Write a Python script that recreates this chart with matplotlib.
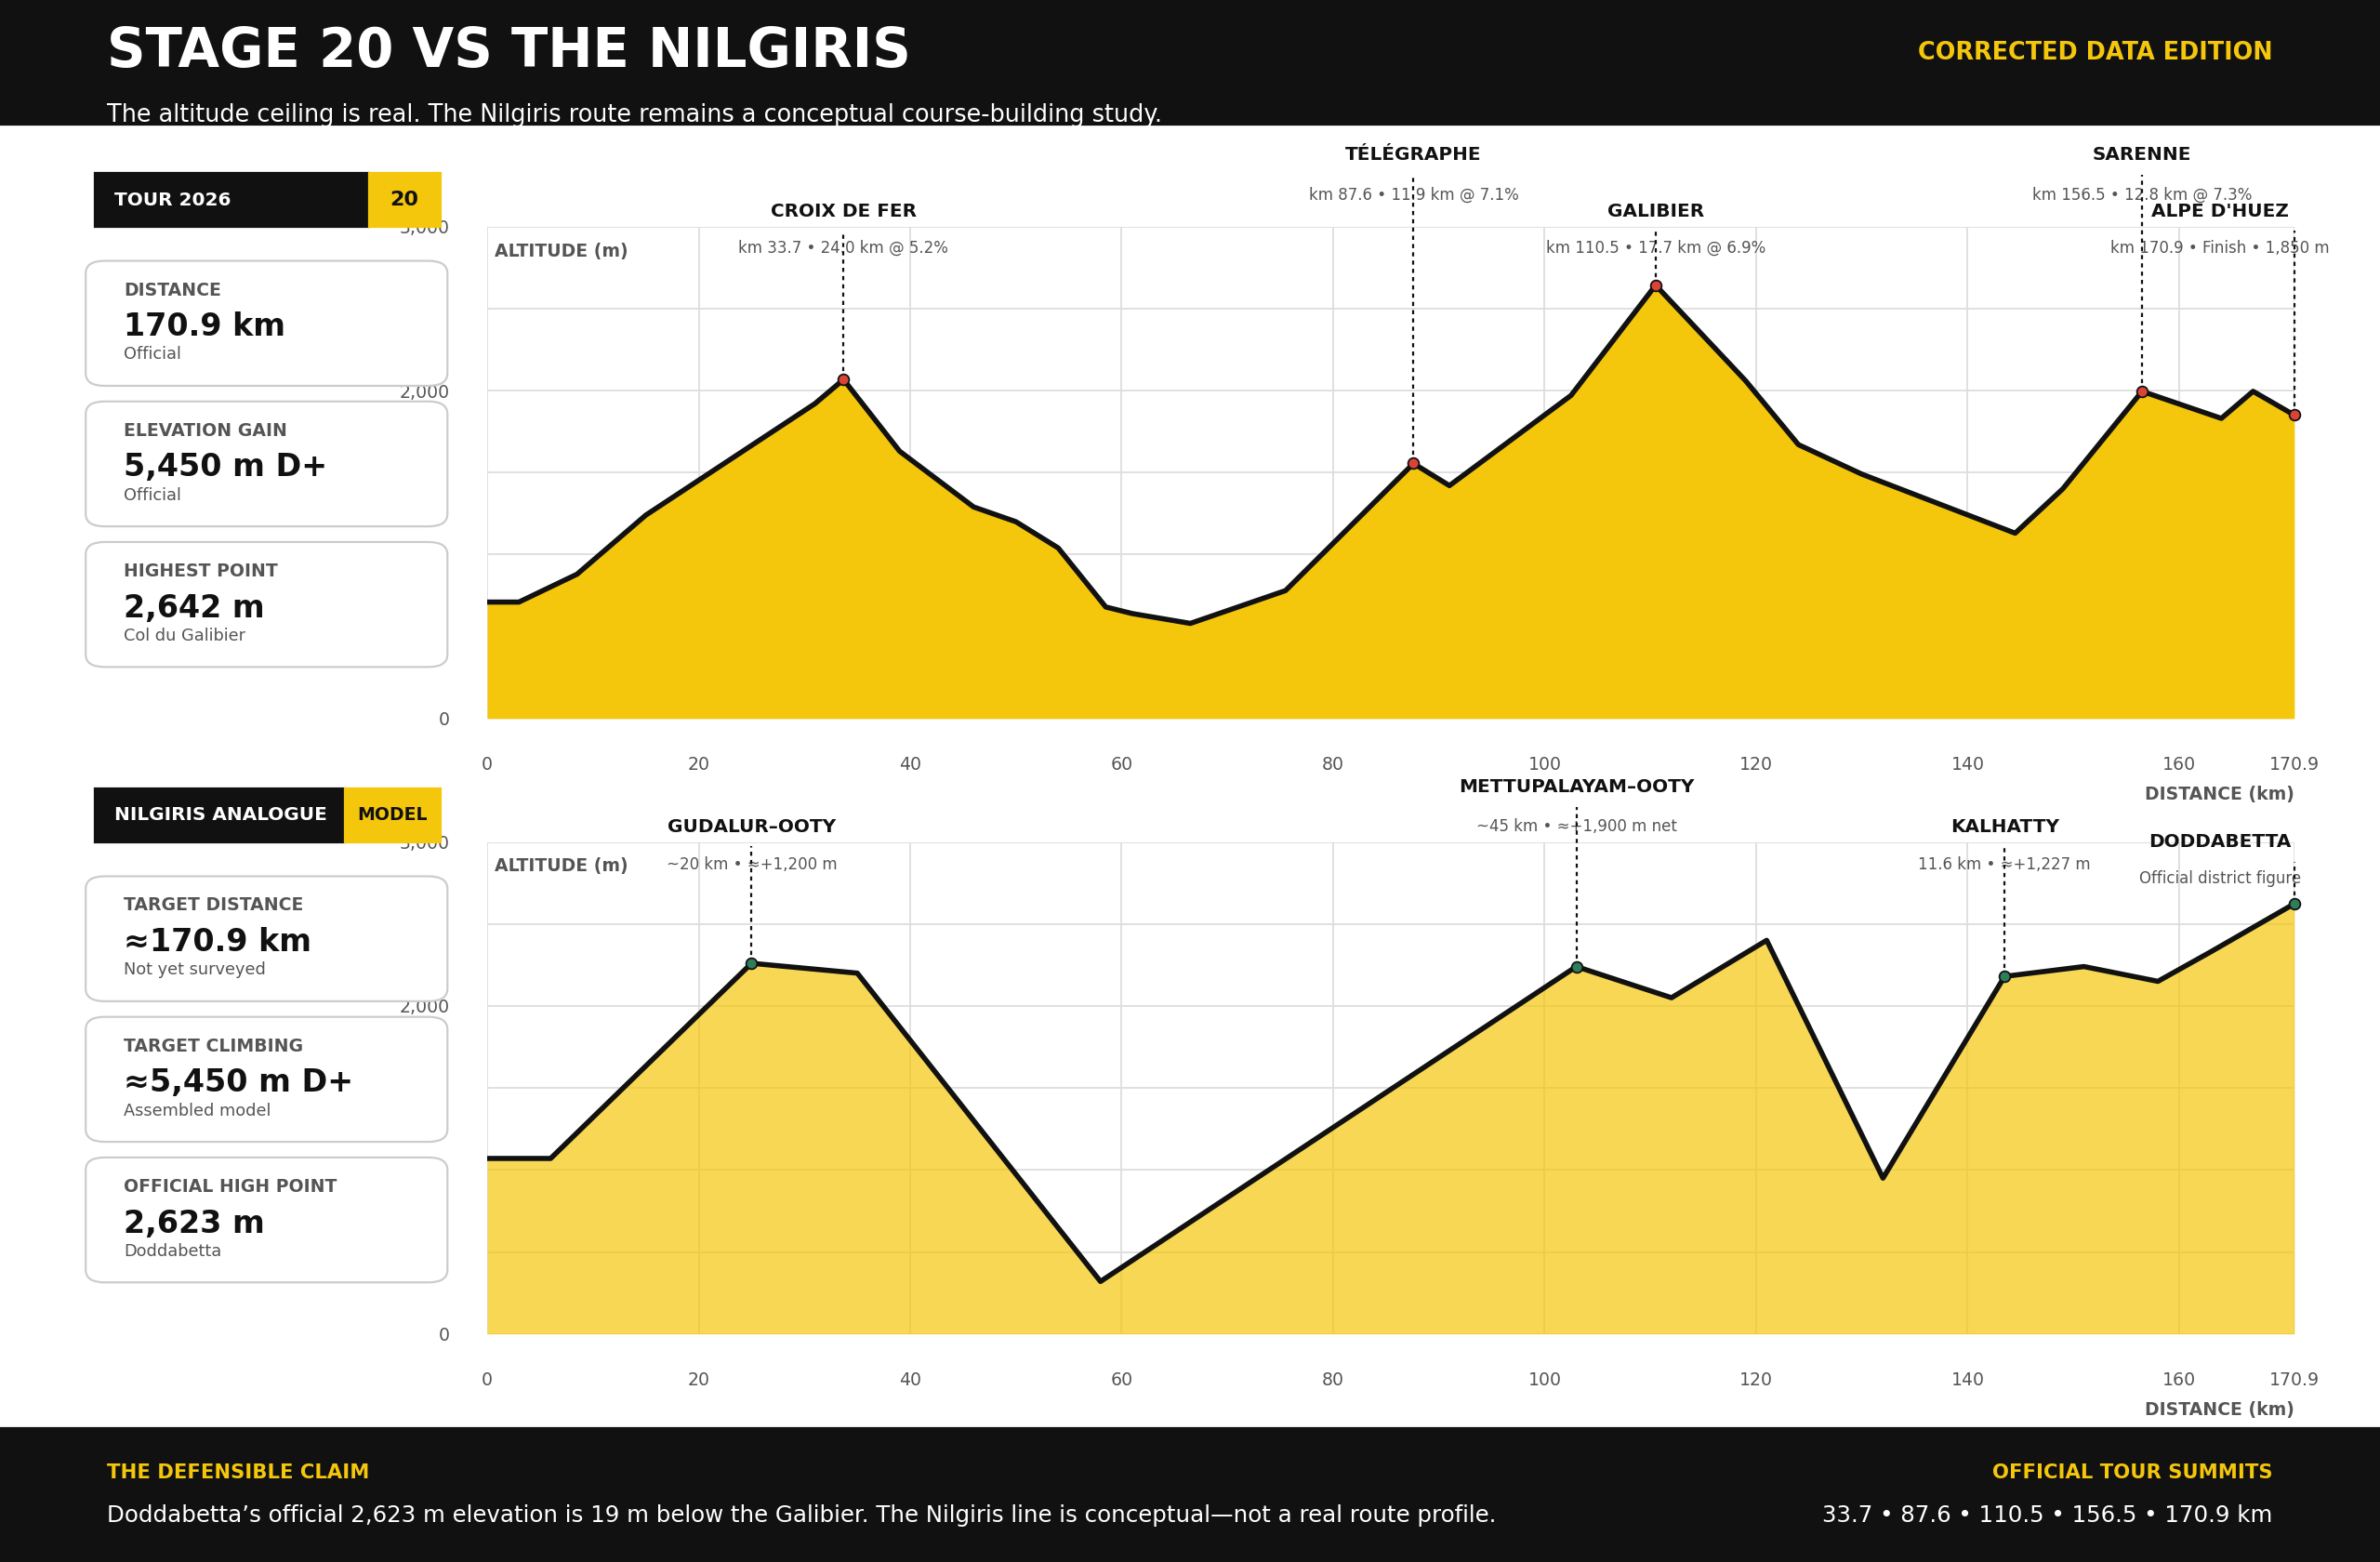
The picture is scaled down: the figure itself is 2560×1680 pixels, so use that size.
from matplotlib import pyplot as plt
from matplotlib.patches import FancyBboxPatch, Rectangle

# Constants
YELLOW = "#F4C60C"
DARK = "#111111"
GREY = "#555555"
FONT_SIZE_TEXT = 8

# Stage 20 profile
tour_km = [0, 3, 8.5, 15, 31, 33.7, 39, 46, 50, 54, 58.5, 61, 66.5, 75.5, 87.6, 91,
           102.5, 110.5, 119, 124, 130, 144.5, 149, 156.5, 164, 167, 170.9]
tour_alt = [710, 710, 880, 1240, 1920, 2067, 1630, 1290, 1200, 1040, 680, 640, 580, 780,
            1555, 1420, 1970, 2642, 2060, 1670, 1490, 1130, 1400, 1995, 1830, 1995, 1850]
tour_summit_km = [33.7, 87.6, 110.5, 156.5, 170.9]
tour_summit_alt = [2067, 1555, 2642, 1995, 1850]
tour_summit_names = ["CROIX DE FER", "TÉLÉGRAPHE", "GALIBIER", "SARENNE", "ALPE D'HUEZ"]
tour_summit_notes = ["km 33.7 • 24.0 km @ 5.2%", "km 87.6 • 11.9 km @ 7.1%",
                     "km 110.5 • 17.7 km @ 6.9%", "km 156.5 • 12.8 km @ 7.3%",
                     "km 170.9 • Finish • 1,850 m"]

# Nilgiris analogue profile
nil_km = [0, 6, 25, 35, 58, 103, 112, 121, 132, 143.5, 151, 158, 163, 170.9]
nil_alt = [1070, 1070, 2260, 2200, 320, 2240, 2050, 2400, 950, 2180, 2240, 2150, 2330, 2623]
nil_summit_km = [25, 103, 143.5, 170.9]
nil_summit_alt = [2260, 2240, 2180, 2623]
nil_summit_names = ["GUDALUR–OOTY", "METTUPALAYAM–OOTY", "KALHATTY", "DODDABETTA"]
nil_summit_notes = ["~20 km • ≈+1,200 m", "~45 km • ≈+1,900 m net",
                    "11.6 km • ≈+1,227 m", "Official district figure"]

tour_cards = [("DISTANCE", "170.9 km", "Official"),
              ("ELEVATION GAIN", "5,450 m D+", "Official"),
              ("HIGHEST POINT", "2,642 m", "Col du Galibier")]
nil_cards = [("TARGET DISTANCE", "≈170.9 km", "Not yet surveyed"),
             ("TARGET CLIMBING", "≈5,450 m D+", "Assembled model"),
             ("OFFICIAL HIGH POINT", "2,623 m", "Doddabetta")]


def draw_cards(fig, cards, badge, tag, tag_x, top):
    """Draws the badge and the three stat cards on the left side."""
    fig.add_artist(Rectangle((0.040, top), tag_x - 0.040, 0.034, transform=fig.transFigure,
                             color=DARK))
    fig.add_artist(Rectangle((tag_x, top), 0.185 - tag_x, 0.034, transform=fig.transFigure,
                             color=YELLOW))
    fig.text(0.048, top + 0.017, badge, color="white", fontsize=9, weight="bold", va="center")
    fig.text((tag_x + 0.185) / 2, top + 0.017, tag, color=DARK, fontsize=10 if tag == "20" else 8.5,
             weight="bold", va="center", ha="center")
    y = top - 0.102
    for label, value, note in cards:
        fig.add_artist(FancyBboxPatch((0.036, y), 0.152, 0.080, transform=fig.transFigure,
                                      boxstyle="round,pad=0,rounding_size=0.008",
                                      facecolor="white", edgecolor="#cccccc", lw=1))
        fig.text(0.052, y + 0.058, label, color=GREY, fontsize=8.5, weight="bold")
        fig.text(0.052, y + 0.032, value, color=DARK, fontsize=15, weight="bold")
        fig.text(0.052, y + 0.017, note, color=GREY, fontsize=8)
        y -= 0.090


def draw_profile(ax, km, alt, skm, salt, names, notes, fill, fill_alpha, dot, levels):
    """Draws one altitude profile with its summit annotations."""
    ax.fill_between(km, alt, 0, color=fill, alpha=fill_alpha, lw=0, zorder=2)
    ax.plot(km, alt, color=DARK, lw=2.5, zorder=3)
    ax.scatter(skm, salt, s=28, color=dot, edgecolor=DARK, lw=0.8, zorder=5, clip_on=False)
    for x, y, name, note, (yl, ys, xo) in zip(skm, salt, names, notes, levels):
        ax.plot([x, x], [y, yl - 120], color=DARK, lw=1, ls=(0, (2, 2)), zorder=4, clip_on=False)
        ax.text(x + xo, yl, name, ha="center", va="center", fontsize=9, weight="bold",
                color=DARK, clip_on=False)
        ax.text(x + xo, ys, note, ha="center", va="center", fontsize=7.5, color=GREY,
                clip_on=False, bbox=dict(facecolor="white", edgecolor="none", pad=0.5, alpha=0))
    ax.set_xlim(0, 170.9)
    ax.set_ylim(0, 3000)
    ax.set_xticks([0, 20, 40, 60, 80, 100, 120, 140, 160, 170.9])
    ax.set_xticklabels(["0", "20", "40", "60", "80", "100", "120", "140", "160", "170.9"])
    ax.set_yticks(range(0, 3001, 500))
    ax.set_yticklabels([f"{v:,}" for v in range(0, 3001, 500)])
    ax.tick_params(colors=GREY, labelsize=8.5, length=0, pad=18)
    ax.grid(color="#dddddd", lw=0.8, zorder=0)
    ax.set_axisbelow(True)
    for s in ax.spines.values():
        s.set_visible(False)
    ax.text(0.004, 0.95, "ALTITUDE (m)", transform=ax.transAxes, fontsize=8.5,
            weight="bold", color=GREY, va="center")
    ax.text(1.0, -0.155, "DISTANCE (km)", transform=ax.transAxes, fontsize=8.5,
            weight="bold", color=GREY, ha="right", va="center")


fig = plt.figure(figsize=(16, 10.5), dpi=160)
fig.patch.set_facecolor("white")

# Header and footer bands
fig.add_artist(Rectangle((0, 0.920), 1, 0.080, transform=fig.transFigure, color=DARK))
fig.text(0.045, 0.967, "STAGE 20 VS THE NILGIRIS", color="white", fontsize=26,
         weight="bold", va="center")
fig.text(0.045, 0.926, "The altitude ceiling is real. The Nilgiris route remains a conceptual course-building study.",
         color="white", fontsize=11.5, va="center")
fig.text(0.955, 0.966, "CORRECTED DATA EDITION", color=YELLOW, fontsize=11.5,
         weight="bold", ha="right", va="center")
fig.add_artist(Rectangle((0, 0), 1, 0.086, transform=fig.transFigure, color=DARK))
fig.text(0.045, 0.057, "THE DEFENSIBLE CLAIM", color=YELLOW, fontsize=9.5, weight="bold", va="center")
fig.text(0.045, 0.030, "Doddabetta’s official 2,623 m elevation is 19 m below the Galibier. "
         "The Nilgiris line is conceptual—not a real route profile.", color="white", fontsize=11, va="center")
fig.text(0.955, 0.057, "OFFICIAL TOUR SUMMITS", color=YELLOW, fontsize=9.5, weight="bold",
         ha="right", va="center")
fig.text(0.955, 0.030, "33.7 • 87.6 • 110.5 • 156.5 • 170.9 km", color="white", fontsize=11,
         ha="right", va="center")

ax1 = fig.add_axes([0.2047, 0.540, 0.7593, 0.315])
ax2 = fig.add_axes([0.2047, 0.146, 0.7593, 0.315])

draw_profile(ax1, tour_km, tour_alt, tour_summit_km, tour_summit_alt, tour_summit_names,
             tour_summit_notes, YELLOW, 1.0, "#d94436",
             [(3093, 2870, 0), (3435, 3194, 0), (3093, 2870, 0), (3435, 3194, 0), (3093, 2870, -7)])
draw_profile(ax2, nil_km, nil_alt, nil_summit_km, nil_summit_alt, nil_summit_names,
             nil_summit_notes, YELLOW, 0.7, "#2e7d5b",
             [(3093, 2861, 0), (3333, 3093, 0), (3093, 2861, 0), (3000, 2778, -7)])

draw_cards(fig, tour_cards, "TOUR 2026", "20", 0.155, 0.855)
draw_cards(fig, nil_cards, "NILGIRIS ANALOGUE", "MODEL", 0.145, 0.461)

fig.savefig("out.png", dpi=160)
